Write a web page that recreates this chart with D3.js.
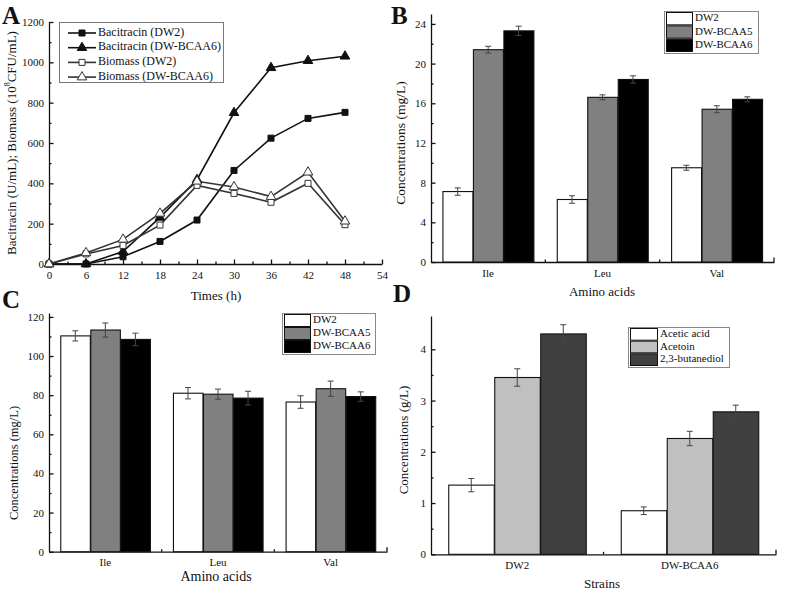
<!DOCTYPE html>
<html><head><meta charset="utf-8">
<script src="https://cdn.jsdelivr.net/npm/d3@7"></script>
<style>
body{margin:0;background:#fff}
svg{display:block}
text{font-family:"Liberation Serif","Times New Roman",serif;fill:#111}
</style></head>
<body><svg id="c" width="790" height="592"></svg>
<script>
// ---------- Panel A data ----------
const timeH = [0, 6, 12, 18, 24, 30, 36, 42, 48];
const bacDW2 = [0, 0, 36, 112, 218, 464, 624, 722, 752];
const bacBCAA6 = [0, 0, 62, 231, 418, 750, 973, 1008, 1030];
const bioDW2 = [0, 50, 92, 193, 390, 350, 306, 400, 195];
const bioBCAA6 = [0, 55, 122, 251, 410, 382, 334, 455, 212];
const seriesA = ["Bacitracin (DW2)", "Bacitracin (DW-BCAA6)", "Biomass (DW2)", "Biomass (DW-BCAA6)"];
const xTicksA = [0, 6, 12, 18, 24, 30, 36, 42, 48, 54];
const yTicksA = [0, 200, 400, 600, 800, 1000, 1200];

// ---------- Panel B data (intracellular) ----------
const aminoCats = ["Ile", "Leu", "Val"];
const strainNames = ["DW2", "DW-BCAA5", "DW-BCAA6"];
const bDW2 = [7.1, 6.3, 9.5];
const bBCAA5 = [21.4, 16.6, 15.4];
const bBCAA6 = [23.3, 18.4, 16.4];
const bErrDW2 = [0.37, 0.38, 0.25];
const bErrBCAA5 = [0.34, 0.25, 0.35];
const bErrBCAA6 = [0.47, 0.37, 0.25];
const yTicksB = [0, 4, 8, 12, 16, 20, 24];

// ---------- Panel C data (extracellular) ----------
const cDW2 = [110.3, 81, 76.5];
const cBCAA5 = [113.3, 80.5, 83.3];
const cBCAA6 = [108.5, 78.5, 79.3];
const cErrDW2 = [2.6, 2.9, 3.2];
const cErrBCAA5 = [3.6, 2.6, 3.9];
const cErrBCAA6 = [3.2, 3.5, 2.4];
const yTicksC = [0, 20, 40, 60, 80, 100, 120];

// ---------- Panel D data ----------
const strainCats = ["DW2", "DW-BCAA6"];
const productNames = ["Acetic acid", "Acetoin", "2,3-butanediol"];
const acetic = [1.35, 0.85];
const acetoin = [3.45, 2.26];
const butanediol = [4.3, 2.78];
const errAcetic = [0.13, 0.075];
const errAcetoin = [0.17, 0.14];
const errButanediol = [0.18, 0.13];
const yTicksD = [0, 1, 2, 3, 4];

const svg = d3.select("#c");
const INK = "#111";

function minorBetween(ticks) {
  const out = [];
  for (let i = 0; i < ticks.length - 1; i++) out.push((ticks[i] + ticks[i + 1]) / 2);
  return out;
}

function yAxis(g, y, ticks, fmt) {
  g.call(d3.axisLeft(y).tickValues(ticks).tickSize(-4.5).tickSizeOuter(0).tickPadding(5).tickFormat(fmt || d3.format("d")));
  g.append("g").call(d3.axisLeft(y).tickValues(minorBetween(ticks)).tickSize(-2.5).tickSizeOuter(0).tickFormat(""))
    .select(".domain").remove();
  g.selectAll("text").style("font-family", '"Liberation Serif",serif').style("font-size", "11px").attr("fill", INK);
  g.selectAll("line,path").attr("stroke", INK).attr("stroke-width", 1.3);
}

function panelLetter(x, y, t) {
  svg.append("text").attr("x", x).attr("y", y).text(t)
    .style("font-size", "25px").style("font-weight", "bold");
}

function rotTitle(x, y, t, size) {
  return svg.append("text").attr("transform", `translate(${x},${y}) rotate(-90)`)
    .attr("text-anchor", "middle").attr("dominant-baseline", "middle").style("font-size", size + "px").text(t);
}
function hTitle(x, y, t, size) {
  svg.append("text").attr("x", x).attr("y", y).attr("text-anchor", "middle")
    .attr("dominant-baseline", "middle").style("font-size", size + "px").text(t);
}

// ================= Panel A =================
(function () {
  const x = d3.scaleLinear().domain([0, 54]).range([49, 382]);
  const y = d3.scaleLinear().domain([0, 1200]).range([264, 22]);
  const gy = svg.append("g").attr("transform", `translate(${x(0)},0)`);
  yAxis(gy, y, yTicksA);
  const gx = svg.append("g").attr("transform", `translate(0,${y(0)})`);
  gx.call(d3.axisBottom(x).tickValues(xTicksA).tickSize(-4.5).tickSizeOuter(0).tickPadding(7).tickFormat(d3.format("d")));
  gx.append("g").call(d3.axisBottom(x).tickValues(minorBetween(xTicksA)).tickSize(-2.5).tickSizeOuter(0).tickFormat("")).select(".domain").remove();
  gx.selectAll("text").style("font-family", '"Liberation Serif",serif').style("font-size", "11px").attr("fill", INK);
  gx.selectAll("line,path").attr("stroke", INK).attr("stroke-width", 1.3);

  const line = d3.line().x((d, i) => x(timeH[i])).y(d => y(d));
  const all = [
    { v: bacDW2, m: "sq", fill: INK, c: INK },
    { v: bacBCAA6, m: "tri", fill: INK, c: INK },
    { v: bioDW2, m: "sq", fill: "#fff", c: "#333" },
    { v: bioBCAA6, m: "tri", fill: "#fff", c: "#333" }
  ];
  const sq = d3.symbol().type(d3.symbolSquare).size(36);
  const tri = d3.symbol().type(d3.symbolTriangle).size(40);
  all.forEach(s => {
    svg.append("path").attr("d", line(s.v)).attr("fill", "none").attr("stroke", s.c).attr("stroke-width", 1.6);
  });
  all.forEach(s => {
    svg.append("g").selectAll("path").data(s.v).join("path")
      .attr("transform", (d, i) => `translate(${x(timeH[i])},${y(d)})`)
      .attr("d", s.m === "sq" ? sq() : tri())
      .attr("fill", s.fill).attr("stroke", s.c).attr("stroke-width", 1);
  });
  // legend
  const lg = svg.append("g");
  lg.append("rect").attr("x", 59.5).attr("y", 22.5).attr("width", 164).attr("height", 60)
    .attr("fill", "#fff").attr("stroke", "#777").attr("stroke-width", 1);
  seriesA.forEach((n, i) => {
    const yy = 33 + i * 14.7;
    const s = all[i];
    lg.append("line").attr("x1", 68).attr("x2", 96).attr("y1", yy).attr("y2", yy).attr("stroke", s.c).attr("stroke-width", 1.6);
    lg.append("path").attr("transform", `translate(82,${yy})`).attr("d", s.m === "sq" ? sq() : tri())
      .attr("fill", s.fill).attr("stroke", s.c);
    lg.append("text").attr("x", 98).attr("y", yy).attr("dominant-baseline", "middle").style("font-size", "12px").text(n);
  });
  const t = rotTitle(13, 143, "", 13);
  t.append("tspan").text("Bacitracin (U/mL); Biomass (10");
  t.append("tspan").text("8").style("font-size", "8px").attr("dy", -5);
  t.append("tspan").text("CFU/mL)").attr("dy", 5);
  hTitle(216, 297, "Times (h)", 13);
  panelLetter(2, 24, "A");
})();

// ================= Generic bar panel =================
function barPanel(o) {
  const x0 = d3.scaleBand().domain(o.cats).range(o.xr).paddingInner(0.2).paddingOuter(0.1);
  const x1 = d3.scaleBand().domain(o.series.map(s => s.name)).range([0, x0.bandwidth()]);
  const y = d3.scaleLinear().domain(o.yd).range(o.yr);
  const gy = svg.append("g").attr("transform", `translate(${o.xr[0]},0)`);
  yAxis(gy, y, o.ticks, o.fmt);
  const gx = svg.append("g").attr("transform", `translate(0,${y(0)})`);
  gx.call(d3.axisBottom(x0).tickSize(-4.5).tickSizeOuter(0).tickPadding(7));
  const bounds = o.cats.slice(0, -1).map(c => x0(c) + x0.bandwidth() + x0.step() * x0.paddingInner() / 2);
  gx.selectAll("line.minor").data(bounds).join("line").attr("class", "minor")
    .attr("x1", d => d).attr("x2", d => d).attr("y1", 0).attr("y2", -2.5);
  gx.append("line").attr("x1", o.xr[1]).attr("x2", o.xr[1]).attr("y1", 0).attr("y2", -4.5);
  gx.selectAll("text").style("font-family", '"Liberation Serif",serif').style("font-size", "11px").attr("fill", INK);
  gx.selectAll("line,path").attr("stroke", INK).attr("stroke-width", 1.3);

  o.series.forEach(s => {
    const g = svg.append("g");
    g.selectAll("rect").data(s.v).join("rect")
      .attr("x", (d, i) => x0(o.cats[i]) + x1(s.name) + 0.5)
      .attr("y", d => y(d)).attr("width", x1.bandwidth() - 0.5)
      .attr("height", d => y(0) - y(d))
      .attr("fill", s.fill).attr("stroke", INK).attr("stroke-width", 1.1);
    s.e.forEach((e, i) => {
      const cx = x0(o.cats[i]) + x1(s.name) + x1.bandwidth() / 2;
      const v = s.v[i];
      const col = "#444";
      g.append("line").attr("x1", cx).attr("x2", cx).attr("y1", y(v + e)).attr("y2", y(v - e)).attr("stroke", col).attr("stroke-width", 1);
      [v + e, v - e].forEach(w => g.append("line").attr("x1", cx - 3).attr("x2", cx + 3).attr("y1", y(w)).attr("y2", y(w)).attr("stroke", col).attr("stroke-width", 1));
    });
  });
  // legend
  const L = o.legend;
  const lg = svg.append("g");
  lg.append("rect").attr("x", L.x + 0.5).attr("y", L.y + 0.5).attr("width", L.w).attr("height", L.h)
    .attr("fill", "#fff").attr("stroke", "#888").attr("stroke-width", 1);
  const rh = (L.h - 2) / o.series.length;
  o.series.forEach((s, i) => {
    lg.append("rect").attr("x", L.x + 2.5).attr("y", L.y + 1.5 + i * rh).attr("width", L.sw).attr("height", rh - 1)
      .attr("fill", s.fill).attr("stroke", INK).attr("stroke-width", 1);
    lg.append("text").attr("x", L.x + L.sw + 5).attr("y", L.y + 1 + (i + 0.5) * rh).attr("dominant-baseline", "middle")
      .style("font-size", "11px").text(s.name);
  });
}

// ================= Panel B =================
barPanel({
  cats: aminoCats, xr: [431, 774], yd: [0, 25], yr: [262, 14], ticks: yTicksB,
  series: [
    { name: strainNames[0], v: bDW2, e: bErrDW2, fill: "#fff" },
    { name: strainNames[1], v: bBCAA5, e: bErrBCAA5, fill: "#808080" },
    { name: strainNames[2], v: bBCAA6, e: bErrBCAA6, fill: "#000" }
  ],
  legend: { x: 664, y: 11, w: 94, h: 42, sw: 26 }
});
rotTitle(402, 143, "Concentrations (mg/L)", 13.5);
hTitle(602, 293, "Amino acids", 13);
panelLetter(391, 24, "B");

// ================= Panel C =================
barPanel({
  cats: aminoCats, xr: [49, 387], yd: [0, 122], yr: [551.7, 313], ticks: yTicksC,
  series: [
    { name: strainNames[0], v: cDW2, e: cErrDW2, fill: "#fff" },
    { name: strainNames[1], v: cBCAA5, e: cErrBCAA5, fill: "#808080" },
    { name: strainNames[2], v: cBCAA6, e: cErrBCAA6, fill: "#000" }
  ],
  legend: { x: 282, y: 313, w: 93, h: 41, sw: 26 }
});
rotTitle(15, 463, "Concentrations (mg/L)", 12.5);
hTitle(216, 578, "Amino acids", 14);
panelLetter(2, 308, "C");

// ================= Panel D =================
barPanel({
  cats: strainCats, xr: [431, 776], yd: [0, 4.65], yr: [554.3, 316], ticks: yTicksD, fmt: d3.format("d"),
  series: [
    { name: productNames[0], v: acetic, e: errAcetic, fill: "#fff" },
    { name: productNames[1], v: acetoin, e: errAcetoin, fill: "#c0c0c0" },
    { name: productNames[2], v: butanediol, e: errButanediol, fill: "#404040" }
  ],
  legend: { x: 628, y: 327, w: 101, h: 40, sw: 27 }
});
rotTitle(405, 440, "Concentrations (g/L)", 13);
hTitle(602, 585, "Strains", 13);
panelLetter(393, 302, "D");
</script></body></html>
